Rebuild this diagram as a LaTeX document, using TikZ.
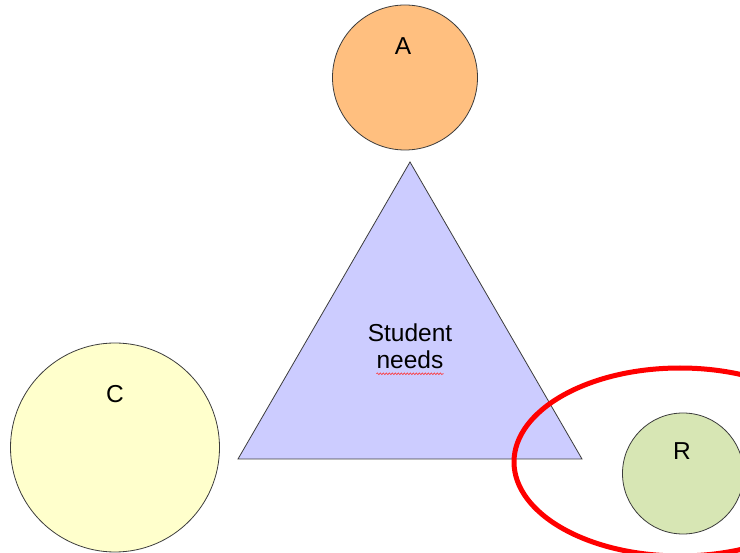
\documentclass[tikz,border=0pt]{standalone}
\usepackage{fontspec}
\setmainfont{Liberation Sans}
\usetikzlibrary{decorations.pathmorphing}
\definecolor{aorange}{HTML}{FFBF7F}
\definecolor{cyellow}{HTML}{FFFFCC}
\definecolor{rgreen}{HTML}{D7E6B4}
\definecolor{tblue}{HTML}{CCCCFF}
\definecolor{edgegray}{HTML}{3C3C3C}
\tikzset{
  ball/.style={circle, draw=edgegray, line width=0.8pt, inner sep=0pt},
  tag/.style={inner sep=0pt, font=\fontsize{24.5}{28}\selectfont},
  redring/.style={draw=red, line width=5pt},
  spellmark/.style={draw=red!80, line width=0.6pt,
    decorate, decoration={snake, amplitude=0.9pt, segment length=3pt}}
}
\begin{document}
\begin{tikzpicture}[x=1pt,y=-1pt]
      \useasboundingbox (0,0) rectangle (740,553);
      \clip (0,0) rectangle (740,553);
      \fill[white] (0,0) rectangle (740,553);
      % triangle
      \coordinate (top) at (410,162);
      \coordinate (bl) at (238,459);
      \coordinate (br) at (582,459);
      \draw[fill=tblue, draw=edgegray, line width=0.8pt] (top) -- (bl) -- (br) -- cycle;
      \node[tag] (stu) at (410,333) {Student};
      \node[tag] (nds) at (410,360) {needs};
      \draw[spellmark] ([yshift=-5pt]nds.base west) -- ([yshift=-5pt]nds.base east);
      % circles
      \node[ball, fill=aorange, minimum size=145pt] (a) at (405,77.5) {};
      \node[ball, fill=cyellow, minimum size=209pt] (c) at (115,447.5) {};
      \node[ball, fill=rgreen, minimum size=121pt] (r) at (683,473.5) {};
      \node[tag] (alab) at (403,46) {A};
      \node[tag] (clab) at (115,394) {C};
      \node[tag] (rlab) at (682,451) {R};
      % ring
      \draw[redring] (680,462) ellipse [x radius=166, y radius=94];
    \end{tikzpicture}
\end{document}
